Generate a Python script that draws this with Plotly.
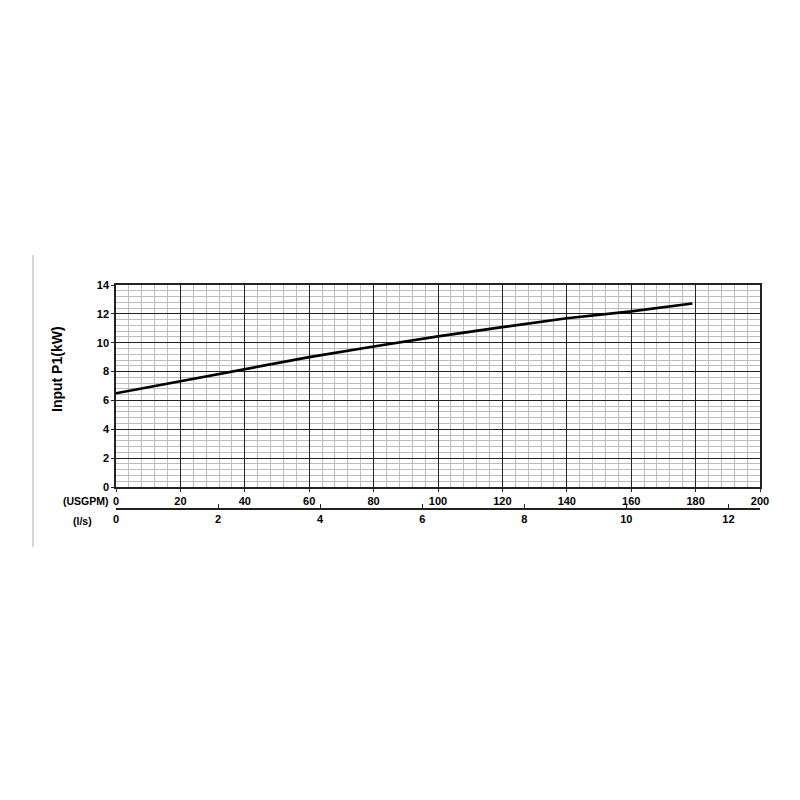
import plotly.graph_objects as go

# Courbe de puissance absorbée P1 en fonction du débit
usgpm = [0, 20, 40, 60, 80, 100, 120, 140, 160, 179]
p1_kw = [6.5, 7.35, 8.18, 9.0, 9.74, 10.44, 11.08, 11.7, 12.17, 12.72]

usgpm_ticks = [0, 20, 40, 60, 80, 100, 120, 140, 160, 180, 200]
ls_ticks = [0, 2, 4, 6, 8, 10, 12]
p1_ticks = [0, 2, 4, 6, 8, 10, 12, 14]

USGPM_PER_LS = 15.85

font_main = "Liberation Sans"

# la page ajoute ~8px de marge, on décale tout
OFF = 8

fig = go.Figure()

fig.add_trace(go.Scatter(
    x=usgpm, y=p1_kw,
    mode="lines",
    line=dict(color="black", width=2.6),
    showlegend=False,
    hoverinfo="skip"
))

# trace invisible pour activer l'axe l/s
fig.add_trace(go.Scatter(
    x=[0], y=[0], xaxis="x2", mode="markers",
    marker=dict(opacity=0), showlegend=False, hoverinfo="skip"
))

# géométrie en pixels (coordonnées de la capture)
plot_left, plot_right = 116 - OFF, 760 - OFF
plot_top, plot_bottom = 285 - OFF, 487 - OFF
paper_bottom = 530 - OFF
paper_h = paper_bottom - plot_top
y_dom0 = (paper_bottom - plot_bottom) / paper_h
ls_pos = (paper_bottom - (509 - OFF)) / paper_h

tick_font = dict(family=font_main, size=11, color="black", weight="bold")

fig.update_layout(
    width=800, height=800,
    paper_bgcolor="white", plot_bgcolor="white",
    margin=dict(l=plot_left, r=800 - plot_right, t=plot_top, b=800 - paper_bottom),
    xaxis=dict(
        range=[0, 200], tickvals=usgpm_ticks,
        showgrid=True, gridcolor="#222222", gridwidth=1.2,
        minor=dict(dtick=4, showgrid=True, gridcolor="#bcbcbc", gridwidth=1),
        showline=True, linecolor="#222222", linewidth=1.5, mirror=True,
        ticks="outside", ticklen=3, tickcolor="#222222",
        tickfont=tick_font, zeroline=False, anchor="y",
    ),
    xaxis2=dict(
        overlaying="x", anchor="free", position=ls_pos, side="bottom",
        range=[0, 200 / USGPM_PER_LS], tickvals=ls_ticks,
        showgrid=False, zeroline=False,
        showline=True, linecolor="#222222", linewidth=1.5,
        ticks="inside", ticklen=4, tickcolor="#222222",
        tickfont=tick_font,
    ),
    yaxis=dict(
        domain=[y_dom0, 1], range=[0, 14], tickvals=p1_ticks,
        showgrid=True, gridcolor="#222222", gridwidth=1.2,
        minor=dict(dtick=0.4, showgrid=True, gridcolor="#bcbcbc", gridwidth=1),
        showline=True, linecolor="#222222", linewidth=1.5, mirror=True,
        ticks="outside", ticklen=3, tickcolor="#222222",
        tickfont=tick_font, zeroline=False,
    ),
)

pw = plot_right - plot_left


def px_x(px):
    return (px - OFF - plot_left) / pw


def px_y(py):
    return (paper_bottom - (py - OFF)) / paper_h


fig.add_annotation(
    text="Input P1(kW)", textangle=-90, showarrow=False,
    xref="paper", yref="paper", x=px_x(57), y=px_y(369),
    xanchor="center", yanchor="middle",
    font=dict(family=font_main, size=14, color="black", weight="bold"),
)
fig.add_annotation(
    text="(USGPM)", showarrow=False,
    xref="paper", yref="paper", x=px_x(86), y=px_y(501),
    xanchor="center", yanchor="middle",
    font=dict(family=font_main, size=10.5, color="black", weight="bold"),
)
fig.add_annotation(
    text="(l/s)", showarrow=False,
    xref="paper", yref="paper", x=px_x(82), y=px_y(521),
    xanchor="center", yanchor="middle",
    font=dict(family=font_main, size=10.5, color="black", weight="bold"),
)

# trait vertical gris à gauche
fig.add_shape(
    type="line", xref="paper", yref="paper",
    x0=px_x(33), x1=px_x(33), y0=px_y(255), y1=px_y(547),
    line=dict(color="#c8c8c8", width=1.5),
)

fig.write_html("out.html")
